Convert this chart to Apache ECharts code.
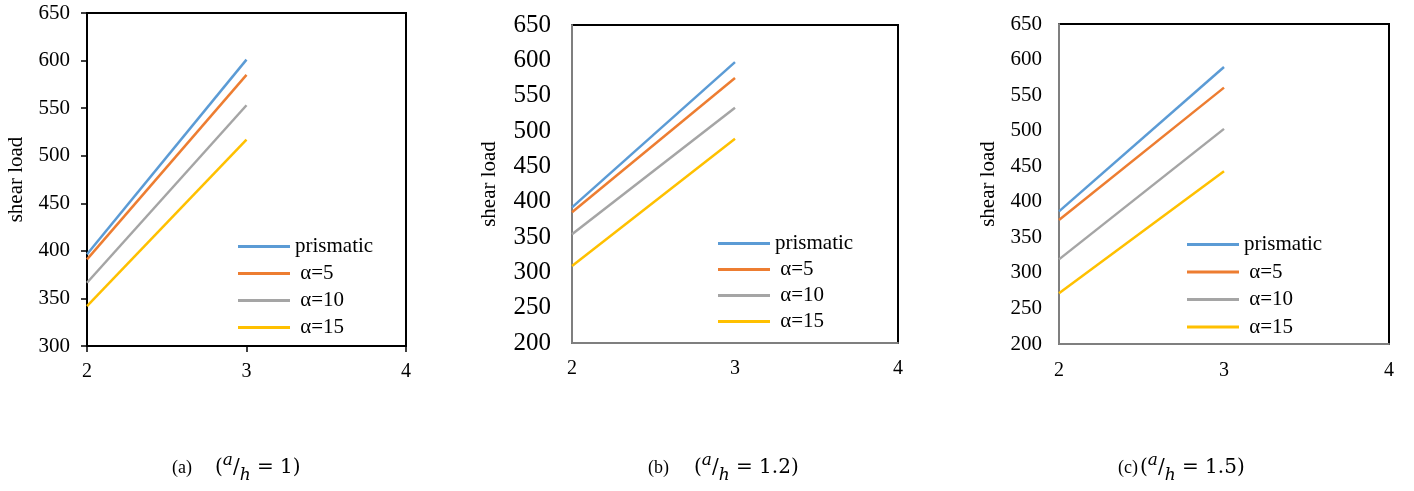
<!DOCTYPE html>
<html>
<head>
<meta charset="utf-8">
<script src="https://cdn.jsdelivr.net/npm/echarts@6/dist/echarts.min.js"></script>
<style>
  html, body { margin: 0; padding: 0; background: #fff; }
  #chart { width: 1414px; height: 491px; }
</style>
</head>
<body>
<div id="chart"></div>
<script>
// 数据：三个子图 (a/h = 1, 1.2, 1.5)，每个子图四条线
var xValues = [2, 3];
var seriesNames = ['prismatic', ' α=5', ' α=10', ' α=15'];
var seriesColors = ['#5B9BD5', '#ED7D31', '#A5A5A5', '#FFC000'];

var panelA = [
    [396.5, 601],
    [391, 585],
    [366.5, 553],
    [342, 517]
];
var panelB = [
    [392, 597.5],
    [385, 575],
    [354, 533],
    [309, 489]
];
var panelC = [
    [386.5, 589.5],
    [374.5, 560.5],
    [319, 502.5],
    [271.5, 443]
];
var yMinList = [300, 200, 200];
var yMax = 650;
var yName = 'shear load';

var FONT = 'Liberation Serif';

// 每个子图的布局
var layout = [
    { left: 87, top: 13, width: 319, height: 333, yFont: 21, xFont: 20, yMargin: 17, xMargin: 16, nameGap: 60,
      axisColor: '#000', ticks: true, legendLeft: 238, legendTop: 236, legendGap: 6 },
    { left: 572, top: 25, width: 326, height: 318, yFont: 25, xFont: 20, yMargin: 21, xMargin: 16, nameGap: 72,
      axisColor: '#7f7f7f', ticks: false, legendLeft: 718, legendTop: 233, legendGap: 5 },
    { left: 1059, top: 24, width: 330, height: 320, yFont: 21, xFont: 20, yMargin: 17, xMargin: 17, nameGap: 60,
      axisColor: '#7f7f7f', ticks: false, legendLeft: 1187, legendTop: 234, legendGap: 6.5 }
];
var panels = [panelA, panelB, panelC];

var grids = [], xAxes = [], yAxes = [], legends = [], series = [];
for (var p = 0; p < 3; p++) {
    var L = layout[p];
    grids.push({
        left: L.left, top: L.top, width: L.width, height: L.height,
        show: true, borderColor: '#000', borderWidth: 2, backgroundColor: 'transparent'
    });
    xAxes.push({
        gridIndex: p, type: 'value', min: 2, max: 4, interval: 1,
        axisLine: { show: true, onZero: false, lineStyle: { color: L.axisColor, width: 2 } },
        axisTick: { show: L.ticks, length: 6, lineStyle: { color: '#000', width: 1.5 } },
        axisLabel: { fontSize: L.xFont, fontFamily: FONT, color: '#000', margin: L.xMargin },
        splitLine: { show: false }
    });
    yAxes.push({
        gridIndex: p, type: 'value', min: yMinList[p], max: yMax, interval: 50,
        name: yName, nameLocation: 'middle', nameGap: L.nameGap,
        nameTextStyle: { fontSize: 21, fontFamily: FONT, color: '#000' },
        axisLine: { show: true, lineStyle: { color: L.axisColor, width: 2 } },
        axisTick: { show: L.ticks, length: 6, lineStyle: { color: '#000', width: 1.5 } },
        axisLabel: { fontSize: L.yFont, fontFamily: FONT, color: '#000', margin: L.yMargin },
        splitLine: { show: false }
    });
    legends.push({
        orient: 'vertical', left: L.legendLeft, top: L.legendTop, padding: 0,
        icon: 'rect',
        itemWidth: 52, itemHeight: 3, itemGap: L.legendGap,
        data: seriesNames,
        textStyle: { fontSize: 21, lineHeight: 21, fontFamily: FONT, color: '#000' }
    });
    for (var s = 0; s < 4; s++) {
        var pts = [];
        for (var k = 0; k < xValues.length; k++) {
            pts.push([xValues[k], panels[p][s][k]]);
        }
        series.push({
            name: seriesNames[s], type: 'line', xAxisIndex: p, yAxisIndex: p,
            data: pts, symbol: 'none', silent: true,
            lineStyle: { color: seriesColors[s], width: 2.5 },
            itemStyle: { color: seriesColors[s] }
        });
    }
}

// 子图标题
var capRich = {
    n: { fontSize: 18, fontFamily: FONT, color: '#000', lineHeight: 32 },
    p: { fontSize: 20, fontFamily: 'DejaVu Serif', color: '#000', lineHeight: 32 },
    sup: { fontSize: 17, fontFamily: 'DejaVu Serif', fontStyle: 'italic', color: '#000', verticalAlign: 'top', lineHeight: 17 },
    sub: { fontSize: 17, fontFamily: 'DejaVu Serif', fontStyle: 'italic', color: '#000', verticalAlign: 'bottom', lineHeight: 17 }
};
var captions = [
    { x: 172, label: '(a)', gap: 23, val: '1' },
    { x: 648, label: '(b)', gap: 25, val: '1.2' },
    { x: 1118, label: '(c)', gap: 2, val: '1.5' }
];
var graphics = [];
for (var c = 0; c < captions.length; c++) {
    var C = captions[c];
    var rich = JSON.parse(JSON.stringify(capRich));
    rich.n.padding = [0, C.gap, 0, 0];
    graphics.push({
        type: 'text', left: C.x, top: 452,
        style: {
            text: '{n|' + C.label + '}{p|(}{sup|a}{p|/}{sub|h}{p| = ' + C.val + ')}',
            rich: rich
        }
    });
}

var chart = echarts.init(document.getElementById('chart'), null, { renderer: 'canvas' });
var option = {
    animation: false,
    backgroundColor: '#fff',
    textStyle: { fontFamily: FONT },
    grid: grids,
    xAxis: xAxes,
    yAxis: yAxes,
    legend: legends,
    series: series,
    graphic: graphics
};
chart.setOption(option);
</script>
</body>
</html>
